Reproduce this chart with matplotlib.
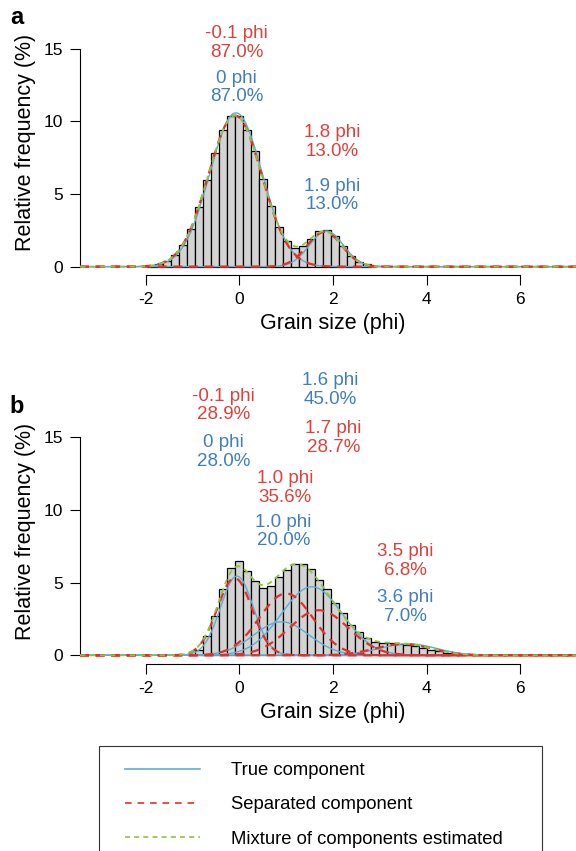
import numpy as np
import matplotlib.pyplot as plt
from matplotlib.lines import Line2D
from matplotlib.patches import Rectangle

plt.rcParams['font.family'] = ['Liberation Sans', 'DejaVu Sans']
plt.rcParams['axes.unicode_minus'] = False

# bin width of the histograms (phi)
bin_width = 0.1708

# panel a : two components
a_start = -1.964
a_heights = [0.06, 0.2, 0.41, 0.79, 1.5, 2.62, 4.1, 5.95, 7.82, 9.41, 10.37,
             10.37, 9.41, 7.95, 6.05, 4.2, 2.75, 1.77, 1.27, 1.45, 1.91, 2.46,
             2.52, 2.13, 1.45, 0.76, 0.34, 0.16]
# curve centres as drawn (labels below give the rounded values)
a_true_mean = [-0.07, 1.86]
a_true_pct = [87.0, 13.0]
a_true_sd = [0.56, 0.36]
a_sep_mean = [-0.09, 1.82]
a_sep_pct = [87.0, 13.0]
a_sep_sd = [0.57, 0.37]

# panel b : four components
b_start = -1.110
b_heights = [0.12, 0.4, 1.33, 2.7, 4.58, 6.0, 6.49, 5.8, 5.12, 4.66, 4.8,
             5.4, 5.87, 6.26, 6.28, 5.92, 5.18, 4.54, 3.62, 2.89, 2.09, 1.62,
             1.17, 0.94, 0.85, 0.82, 0.78, 0.73, 0.61, 0.5, 0.39, 0.28, 0.16,
             0.09]
b_true_mean = [-0.05, 0.9, 1.55, 3.6]
b_true_pct = [28.0, 20.0, 45.0, 7.0]
b_true_sd = [0.35, 0.59, 0.65, 0.6]
b_sep_mean = [-0.1, 1.0, 1.7, 3.5]
b_sep_pct = [28.9, 35.6, 28.7, 6.8]
b_sep_sd = [0.37, 0.57, 0.63, 0.6]

# annotations (x in phi, y in %)
a_red_labels = ["-0.1 phi\n87.0%", "1.8 phi\n13.0%"]
a_red_xy = [(-0.06, 15.4), (1.98, 8.58)]
a_blue_labels = ["0 phi\n87.0%", "1.9 phi\n13.0%"]
a_blue_xy = [(-0.06, 12.33), (1.98, 4.9)]

b_red_labels = ["-0.1 phi\n28.9%", "1.0 phi\n35.6%", "1.7 phi\n28.7%", "3.5 phi\n6.8%"]
b_red_xy = [(-0.33, 17.19), (0.98, 11.51), (2.01, 14.96), (3.55, 6.47)]
b_blue_labels = ["0 phi\n28.0%", "1.0 phi\n20.0%", "1.6 phi\n45.0%", "3.6 phi\n7.0%"]
b_blue_xy = [(-0.34, 14.01), (0.94, 8.53), (1.95, 18.26), (3.55, 3.32)]

c_blue = '#5aaed6'
c_red = '#e3302a'
c_green = '#8fc43a'
t_red = '#e0403a'
t_blue = '#3f7fbf'


def component(x, mean, pct, sd):
    return pct * bin_width * np.exp(-0.5 * ((x - mean) / sd) ** 2) / (sd * np.sqrt(2 * np.pi))


def draw_panel(ax, start, heights, tm, tp, tsd, sm, sp, ssd,
               red_lab, red_xy, blue_lab, blue_xy, letter):
    edges = start + bin_width * np.arange(len(heights))
    ax.bar(edges, heights, width=bin_width, align='edge', color='#d3d3d3',
           edgecolor='black', linewidth=0.9, zorder=1)
    x = np.linspace(-3.4, 7.4, 800)
    for m, p, s in zip(tm, tp, tsd):
        ax.plot(x, component(x, m, p, s), color=c_blue, lw=1.0, zorder=2)
    mix = np.zeros_like(x)
    for m, p, s in zip(sm, sp, ssd):
        y = component(x, m, p, s)
        mix += y
        ax.plot(x, y, color=c_red, lw=1.6, ls=(0, (4, 3)), zorder=3)
    ax.plot(x, mix, color=c_green, lw=1.3, ls=(0, (3, 2.5)), zorder=4)

    for lab, (px, py) in zip(red_lab, red_xy):
        ax.text(px, py, lab, color=t_red, fontsize=13.5, ha='center',
                va='center', linespacing=1.13)
    for lab, (px, py) in zip(blue_lab, blue_xy):
        ax.text(px, py, lab, color=t_blue, fontsize=13.5, ha='center',
                va='center', linespacing=1.13)

    ax.set_xlim(-3.4, 7.4)
    ax.set_ylim(-0.6, 15.6)
    ax.set_xticks([-2, 0, 2, 4, 6])
    ax.set_yticks([0, 5, 10, 15])
    for side in ['top', 'right']:
        ax.spines[side].set_visible(False)
    ax.spines['left'].set_bounds(0, 15)
    ax.spines['bottom'].set_bounds(-2, 6)
    for side in ['left', 'bottom']:
        ax.spines[side].set_linewidth(0.8)
    ax.tick_params(axis='both', length=7, width=0.8, labelsize=12.5)
    ax.tick_params(axis='y', pad=5)
    ax.tick_params(axis='x', pad=5)
    ax.set_xlabel('Grain size (phi)', fontsize=15.5)
    ax.set_ylabel('Relative frequency (%)', fontsize=15.5)
    ax.xaxis.label.set_va('center')
    ax.xaxis.set_label_coords(0.5, -0.205)
    ax.yaxis.label.set_va('center')
    ax.yaxis.set_label_coords(-0.108, 0.565)
    ax.text(-0.125, 1.095, letter, transform=ax.transAxes, fontsize=17,
            fontweight='bold', ha='center', va='center')


fig = plt.figure(figsize=(5.76, 8.51), dpi=100)
ax_a = fig.add_axes([0.139, 0.6764, 0.878, 0.2766])
ax_b = fig.add_axes([0.139, 0.2197, 0.878, 0.2766])

draw_panel(ax_a, a_start, a_heights, a_true_mean, a_true_pct, a_true_sd,
           a_sep_mean, a_sep_pct, a_sep_sd,
           a_red_labels, a_red_xy, a_blue_labels, a_blue_xy, 'a')
draw_panel(ax_b, b_start, b_heights, b_true_mean, b_true_pct, b_true_sd,
           b_sep_mean, b_sep_pct, b_sep_sd,
           b_red_labels, b_red_xy, b_blue_labels, b_blue_xy, 'b')

# legend box
fig.add_artist(Rectangle((0.1724, -0.05), 0.9405 - 0.1724, 0.1234 + 0.05,
                         transform=fig.transFigure, fill=False,
                         edgecolor='#333333', linewidth=0.8))
handles = [Line2D([], [], color=c_blue, lw=1.2),
           Line2D([], [], color=c_red, lw=1.2, ls=(0, (4, 3.5))),
           Line2D([], [], color=c_green, lw=1.2, ls=(0, (3, 2.5)))]
labels = ['True component', 'Separated component',
          'Mixture of components estimated']
fig.legend(handles, labels, loc='upper left', bbox_to_anchor=(125 / 576, 0.1045),
           frameon=False, borderpad=0, borderaxespad=0, handlelength=4.06,
           handletextpad=1.68, labelspacing=0.94, fontsize=13.3)

fig.savefig('out.png', dpi=100)
